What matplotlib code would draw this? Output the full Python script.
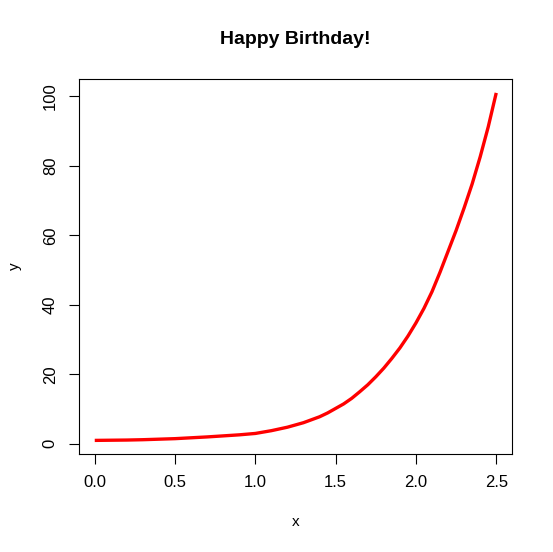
import matplotlib
matplotlib.use("Agg")
import matplotlib.pyplot as plt

# values
x_vals = [0.0, 0.1, 0.2, 0.3, 0.4, 0.5, 0.6, 0.7, 0.8, 0.9, 1.0, 1.1, 1.2,
          1.3, 1.4, 1.45, 1.5, 1.55, 1.6, 1.65, 1.7, 1.75, 1.8, 1.85, 1.9, 1.95,
          2.0, 2.05, 2.1, 2.15, 2.2, 2.25, 2.3, 2.35, 2.4, 2.45, 2.5]
y_vals = [1.0, 1.05, 1.1, 1.2, 1.35, 1.5, 1.75, 2.0, 2.3, 2.6, 3.0, 3.8, 4.8,
          6.1, 7.8, 8.9, 10.2, 11.5, 13.1, 15.0, 17.0, 19.3, 21.8, 24.6, 27.6, 31.0,
          34.8, 39.0, 43.8, 49.4, 55.4, 61.4, 67.9, 74.8, 82.6, 91.2, 101.0]
x_ticks = [0.0, 0.5, 1.0, 1.5, 2.0, 2.5]
y_ticks = [0, 20, 40, 60, 80, 100]

plt.rcParams['font.family'] = ['Liberation Sans', 'DejaVu Sans']

fig = plt.figure(figsize=(5.53, 5.52), dpi=100)
ax = fig.add_axes([0.1423, 0.177, 0.7841, 0.6799])

ax.plot(x_vals, y_vals, color='red', lw=2.4, solid_capstyle='butt',
        solid_joinstyle='round')

ax.set_xlim(-0.1, 2.6)
ax.set_ylim(-3, 105)
ax.set_xticks(x_ticks)
ax.set_xticklabels(['0.0', '0.5', '1.0', '1.5', '2.0', '2.5'])
ax.set_yticks(y_ticks)
ax.set_yticklabels([str(v) for v in y_ticks], rotation=90, va='center')
ax.tick_params(direction='out', length=7, width=0.8, labelsize=12, pad=8)

for s in ax.spines.values():
    s.set_linewidth(0.8)

ax.set_title('Happy Birthday!', fontsize=14, fontweight='bold', pad=25)
ax.set_xlabel('x', fontsize=11, labelpad=18)
ax.set_ylabel('y', fontsize=11, labelpad=15)

fig.savefig('out.png', dpi=100)
